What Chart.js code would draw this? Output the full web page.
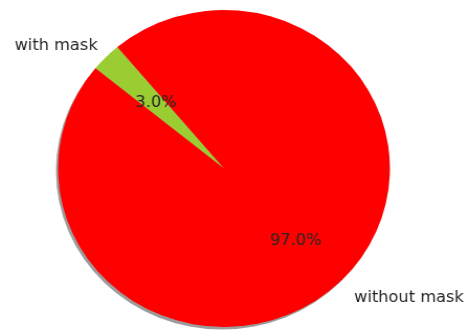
<!DOCTYPE html>
<html lang="en">
<head>
    <meta charset="UTF-8">
    <title>Mask pie chart</title>
    <script src="https://cdn.jsdelivr.net/npm/chart.js@4.4.0/dist/chart.umd.min.js"></script>
    <style>
        body, html {
            margin: 0;
            background-color: #FFFFFF;
            overflow: hidden;
        }
        #wrap {
            width: 474px;
            height: 330px;
            transform: scaleX(1.047);
            transform-origin: 224px 0;
        }
    </style>
</head>
<body>
    <div id="wrap">
        <canvas id="chart_div" width="474" height="330"></canvas>
    </div>
    <script>
        // Chart data
        const labels = ['with mask', 'without mask'];
        const values = [3.0, 97.0];
        const colors = ['#9acd32', '#ff0000'];
        const startRotation = 309.2; // degrees, clockwise from top

        // Grey drop shadow behind the pie
        const shadowPlugin = {
            id: 'pieShadow',
            beforeDatasetsDraw(chart) {
                const arc = chart.getDatasetMeta(0).data[0];
                if (!arc) return;
                const ctx = chart.ctx;
                ctx.save();
                ctx.fillStyle = 'rgba(90,90,90,0.6)';
                ctx.beginPath();
                ctx.arc(arc.x - 2, arc.y + 2.5, arc.outerRadius, 0, Math.PI * 2);
                ctx.fill();
                ctx.restore();
            }
        };

        // Outer labels and percentages, placed like matplotlib
        const labelPlugin = {
            id: 'pieLabels',
            afterDatasetsDraw(chart) {
                const ctx = chart.ctx;
                const arcs = chart.getDatasetMeta(0).data;
                const total = values.reduce((a, b) => a + b, 0);
                ctx.save();
                ctx.font = '15.5px "DejaVu Sans"';
                ctx.textBaseline = 'middle';
                ctx.fillStyle = '#262626';
                arcs.forEach((arc, i) => {
                    const mid = (arc.startAngle + arc.endAngle) / 2;
                    const r = arc.outerRadius;
                    // the source image is slightly squashed, nudge text to match
                    const ox = arc.x + 1.8, oy = arc.y + 3.5;
                    const cx = Math.cos(mid) * 0.986, cy = Math.sin(mid) * 1.033;
                    // category label at 1.1 r
                    ctx.textAlign = cx > 0 ? 'left' : 'right';
                    ctx.fillText(labels[i], ox + cx * r * 1.1, oy + cy * r * 1.1);
                    // percentage at 0.6 r
                    ctx.textAlign = 'center';
                    const pct = (values[i] / total * 100).toFixed(1) + '%';
                    ctx.fillText(pct, ox + cx * r * 0.6, oy + cy * r * 0.6);
                });
                ctx.restore();
            }
        };

        const ctx = document.getElementById('chart_div').getContext('2d');
        const chart = new Chart(ctx, {
            type: 'pie',
            data: {
                labels: labels,
                datasets: [{
                    data: values,
                    backgroundColor: colors,
                    borderWidth: 0
                }]
            },
            options: {
                responsive: false,
                animation: false,
                rotation: startRotation,
                layout: {
                    padding: { left: 0, right: 26, top: 10, bottom: 3 }
                },
                plugins: {
                    legend: { display: false },
                    tooltip: { enabled: false }
                }
            },
            plugins: [shadowPlugin, labelPlugin]
        });
    </script>
</body>
</html>
